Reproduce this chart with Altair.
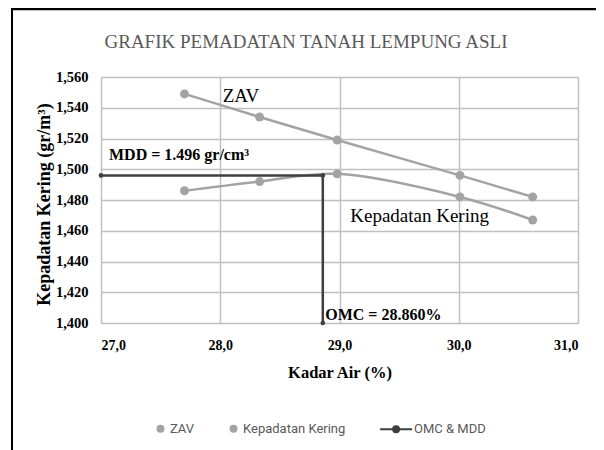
import altair as alt
import pandas as pd

# ---- data ----
kadar_air = [27.70, 28.33, 28.98, 30.01, 30.62]
zav = [1.549, 1.534, 1.519, 1.496, 1.482]
kepadatan = [1.486, 1.492, 1.497, 1.482, 1.467]
omc_x = [27.0, 28.86, 28.86]
omc_y = [1.496, 1.496, 1.400]
series_names = ["ZAV", "Kepadatan Kering", "OMC & MDD"]
x_ticks = [27, 28, 29, 30, 31]
y_ticks = [1.40, 1.42, 1.44, 1.46, 1.48, 1.50, 1.52, 1.54, 1.56]
chart_title = "GRAFIK PEMADATAN TANAH LEMPUNG ASLI"

rows = []
for i, (x, y) in enumerate(zip(kadar_air, zav)):
    rows.append({"series": "ZAV", "x": x, "y": y, "o": i})
for i, (x, y) in enumerate(zip(kadar_air, kepadatan)):
    rows.append({"series": "Kepadatan Kering", "x": x, "y": y, "o": i})
curves = pd.DataFrame(rows)
omc = pd.DataFrame({"series": "OMC & MDD", "x": omc_x, "y": omc_y, "o": [0, 1, 2]})
alldata = pd.concat([curves, omc], ignore_index=True)

labels = pd.DataFrame({
    "text": ["ZAV", "Kepadatan Kering"],
    "x": [28.02, 29.09],
    "y": [1.5437, 1.4657],
})
bold_labels = pd.DataFrame({
    "text": ["MDD = 1.496 gr/cm³", "OMC = 28.860%"],
    "x": [27.067, 28.88],
    "y": [1.506, 1.402],
})

GRAY = "#a3a3a3"
DARK = "#3f3f3f"
SERIF = "Liberation Serif"

xs = alt.Scale(domain=[27, 31], nice=False, zero=False)
ys = alt.Scale(domain=[1.40, 1.56], nice=False, zero=False)

X = alt.X("x:Q", scale=xs, title="Kadar Air (%)",
          axis=alt.Axis(values=x_ticks,
                        labelExpr="replace(format(datum.value, '.1f'), '.', ',')",
                        grid=True, gridColor="#c0c0c0", gridWidth=1.5,
                        domain=False, ticks=False, labelPadding=15,
                        labelFont=SERIF, labelFontWeight="bold", labelFontSize=14,
                        labelColor="#000000",
                        titleFont=SERIF, titleFontWeight="bold", titleFontSize=16.5,
                        titleColor="#000000", titlePadding=12))
Y = alt.Y("y:Q", scale=ys, title="Kepadatan Kering (gr/m³)",
          axis=alt.Axis(values=y_ticks,
                        labelExpr="replace(format(datum.value, '.3f'), '.', ',')",
                        grid=True, gridColor="#c0c0c0", gridWidth=1.5,
                        domain=False, ticks=False, labelPadding=13,
                        labelFont=SERIF, labelFontWeight="bold", labelFontSize=14.5,
                        labelColor="#000000",
                        titleFont=SERIF, titleFontWeight="bold", titleFontSize=18,
                        titleColor="#000000", titleX=-57, titleY=127,
                        titleAngle=270, titleAlign="center", titleBaseline="middle"))

curve_lines = alt.Chart(curves).mark_line(
    interpolate="catmull-rom", strokeWidth=2.5, color=GRAY
).encode(x=X, y=Y, detail="series:N", order="o:Q")

curve_points = alt.Chart(curves).mark_point(
    filled=True, size=80, color=GRAY, opacity=1
).encode(x=X, y=Y)

omc_line = alt.Chart(omc).mark_line(strokeWidth=2.5, color=DARK).encode(
    x=X, y=Y, order="o:Q")
omc_points = alt.Chart(omc).mark_point(filled=True, size=22, color=DARK, opacity=1).encode(
    x=X, y=Y)

# legend symbol for the OMC & MDD entry: a line with a dot in its middle
line_dot = "M-6.1,0L1.9,0M-2.85,0A0.75,0.75,0,1,0,-1.35,0A0.75,0.75,0,1,0,-2.85,0Z"
leg = alt.Legend(title=None, orient="none", legendX=53, legendY=345,
                 direction="horizontal", labelFont="Roboto", labelFontSize=13,
                 labelColor="#595959", symbolOpacity=1, columnPadding=30,
                 labelOffset=3, symbolStrokeWidth=2, symbolSize=64)
legend_layer = alt.Chart(alldata).mark_point(filled=True, opacity=0).encode(
    x=X, y=Y,
    fill=alt.Fill("series:N", sort=series_names,
                  scale=alt.Scale(domain=series_names, range=[GRAY, GRAY, DARK]), legend=leg),
    stroke=alt.Stroke("series:N", sort=series_names,
                      scale=alt.Scale(domain=series_names, range=["#00000000", "#00000000", DARK]), legend=leg),
    shape=alt.Shape("series:N", sort=series_names,
                    scale=alt.Scale(domain=series_names, range=["circle", "circle", line_dot]), legend=leg),
)

txt = alt.Chart(labels).mark_text(
    font=SERIF, fontSize=19, align="left", baseline="alphabetic", color="#000000"
).encode(x=X, y=Y, text="text:N")
btxt = alt.Chart(bold_labels).mark_text(
    font=SERIF, fontSize=16, fontWeight="bold", align="left", baseline="alphabetic", color="#000000"
).encode(x=X, y=Y, text="text:N")

title_txt = alt.Chart(pd.DataFrame({"t": [chart_title]})).mark_text(
    font=SERIF, fontSize=19, color="#595959", align="center", baseline="alphabetic"
).encode(x=alt.value(205), y=alt.value(-29), text="t:N")

frame_top = alt.Chart(pd.DataFrame({"a": [0]})).mark_rule(color="#000000", strokeWidth=2.5).encode(
    x=alt.value(-89), x2=alt.value(495), y=alt.value(-68))
frame_left = alt.Chart(pd.DataFrame({"a": [0]})).mark_rule(color="#000000", strokeWidth=2).encode(
    x=alt.value(-89), y=alt.value(-69), y2=alt.value(373))

chart = alt.layer(
    curve_lines, curve_points, omc_line, omc_points, legend_layer, txt, btxt,
    title_txt, frame_top, frame_left
).properties(
    width=477, height=246,
    autosize="none",
    padding={"left": 93, "top": 69, "right": 18, "bottom": 127},
).configure_view(stroke="#c0c0c0", strokeWidth=1.5).configure(background="#ffffff")

chart.save("out.html", embed_options={"renderer": "svg", "actions": False})
